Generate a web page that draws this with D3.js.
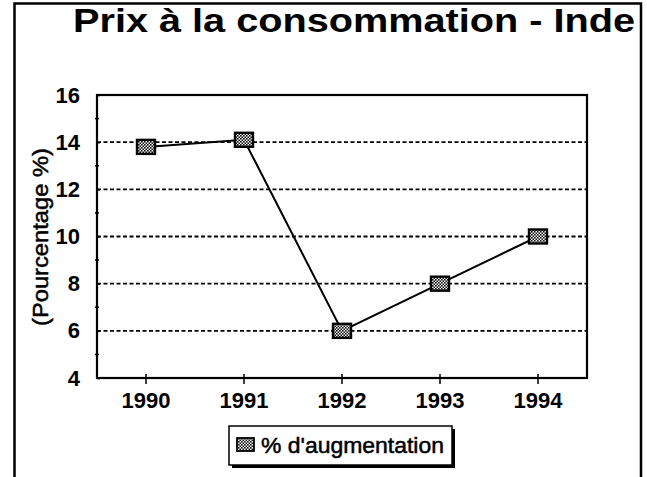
<!doctype html>
<html>
  <head>
    <script src="https://cdnjs.cloudflare.com/ajax/libs/d3/7.8.5/d3.min.js"></script>
    <style>
      body { margin: 0; background: #fff; }
      text { font-family: Arial, "Liberation Sans", sans-serif; fill: #000; }
      .grid { stroke: #000; stroke-width: 1.8; stroke-dasharray: 4 2.5; }
      .heavy { stroke: #000; stroke-width: 0.5; }
    </style>
  </head>
  <body>
    <svg width="647" height="477"></svg>
    <script>
      // data
      var years = ["1990", "1991", "1992", "1993", "1994"];
      var values = [13.8, 14.1, 6.0, 8.0, 10.0];
      var yTicks = [4, 6, 8, 10, 12, 14, 16];
      var gridValues = [6, 8, 10, 12, 14];
      var minorTicks = [5, 7, 9, 11, 13, 15];
      var seriesName = "% d'augmentation";
      var title = "Prix à la consommation - Inde";
      var yTitle = "(Pourcentage %)";

      var svg = d3.select("svg");

      // pattern for the markers
      var defs = svg.append("defs");
      var pat = defs.append("pattern")
          .attr("id", "checker")
          .attr("width", 3).attr("height", 3)
          .attr("patternUnits", "userSpaceOnUse");
      pat.append("rect").attr("width", 3).attr("height", 3).attr("fill", "#fff");
      pat.append("rect").attr("width", 1.6).attr("height", 1.6).attr("fill", "#111");
      pat.append("rect").attr("x", 1.5).attr("y", 1.5).attr("width", 1.6).attr("height", 1.6).attr("fill", "#111");

      // outer frame (no bottom edge)
      svg.append("path")
          .attr("d", "M14.5,477 V3.5 H641 V477")
          .attr("fill", "none")
          .attr("stroke", "#000")
          .attr("stroke-width", 2.5);

      svg.append("text")
          .attr("x", 73).attr("y", 32)
          .attr("font-size", 33)
          .attr("font-weight", "bold")
          .attr("textLength", 562)
          .attr("lengthAdjust", "spacingAndGlyphs")
          .text(title);

      var pLeft = 97, pRight = 587, pTop = 95, pBottom = 378;

      var x = d3.scaleBand().domain(years).range([pLeft, pRight]);
      var y = d3.scaleLinear().domain([4, 16]).range([pBottom, pTop]);

      // dashed grid
      svg.selectAll("line.grid")
        .data(gridValues)
        .enter()
        .append("line")
          .attr("class", "grid")
          .attr("x1", pLeft).attr("x2", pRight)
          .attr("y1", d => y(d)).attr("y2", d => y(d));

      // plot frame
      svg.append("rect")
          .attr("x", pLeft).attr("y", pTop)
          .attr("width", pRight - pLeft).attr("height", pBottom - pTop)
          .attr("fill", "none")
          .attr("stroke", "#000")
          .attr("stroke-width", 2.2);

      // y axis
      var yAxis = svg.append("g")
          .attr("transform", `translate(${pLeft},0)`)
          .call(d3.axisLeft(y).tickValues(yTicks).tickSize(6).tickPadding(11));
      yAxis.select(".domain").remove();
      yAxis.selectAll(".tick line").attr("x2", 3).attr("stroke-width", 1.5);
      yAxis.selectAll(".tick text")
          .attr("font-size", 22)
          .attr("font-weight", "bold")
          .attr("font-family", "Arial, 'Liberation Sans', sans-serif");

      svg.selectAll("line.minor")
        .data(minorTicks)
        .enter()
        .append("line")
          .attr("class", "minor")
          .attr("x1", pLeft - 2).attr("x2", pLeft + 2)
          .attr("y1", d => y(d)).attr("y2", d => y(d))
          .attr("stroke", "#000").attr("stroke-width", 1.5);

      // x axis
      var xAxis = svg.append("g")
          .attr("transform", `translate(0,${pBottom})`)
          .call(d3.axisBottom(x).tickSize(6).tickPadding(8));
      xAxis.select(".domain").remove();
      xAxis.selectAll(".tick line").attr("y1", -4).attr("stroke-width", 1.5);
      xAxis.selectAll(".tick text")
          .attr("font-size", 22)
          .attr("font-weight", "bold")
          .attr("font-family", "Arial, 'Liberation Sans', sans-serif");

      svg.append("text")
          .attr("class", "heavy")
          .attr("transform", "translate(48,237) rotate(-90)")
          .attr("text-anchor", "middle")
          .attr("font-size", 22)
          .attr("textLength", 178)
          .attr("lengthAdjust", "spacingAndGlyphs")
          .text(yTitle);

      // series line and markers
      var pts = years.map((d, i) => [x(d) + x.bandwidth() / 2, y(values[i])]);
      svg.append("path")
          .datum(pts)
          .attr("d", d3.line())
          .attr("fill", "none")
          .attr("stroke", "#000")
          .attr("stroke-width", 2);

      svg.selectAll("rect.marker")
        .data(pts)
        .enter()
        .append("rect")
          .attr("class", "marker")
          .attr("x", d => d[0] - 9).attr("y", d => d[1] - 7)
          .attr("width", 18).attr("height", 14)
          .attr("fill", "url(#checker)")
          .attr("stroke", "#000")
          .attr("stroke-width", 2.4);

      // legend
      var lg = svg.append("g").attr("transform", "translate(229,426)");
      lg.append("rect")
          .attr("x", 3).attr("y", 3)
          .attr("width", 223).attr("height", 39)
          .attr("fill", "#000");
      lg.append("rect")
          .attr("width", 223).attr("height", 39)
          .attr("fill", "#fff")
          .attr("stroke", "#000")
          .attr("stroke-width", 1.5);
      lg.append("rect")
          .attr("x", 8).attr("y", 12)
          .attr("width", 17).attr("height", 13)
          .attr("fill", "url(#checker)")
          .attr("stroke", "#000")
          .attr("stroke-width", 1.8);
      lg.append("text")
          .attr("class", "heavy")
          .attr("x", 32).attr("y", 27)
          .attr("font-size", 22)
          .attr("textLength", 183)
          .attr("lengthAdjust", "spacingAndGlyphs")
          .text(seriesName);
    </script>
  </body>
</html>
